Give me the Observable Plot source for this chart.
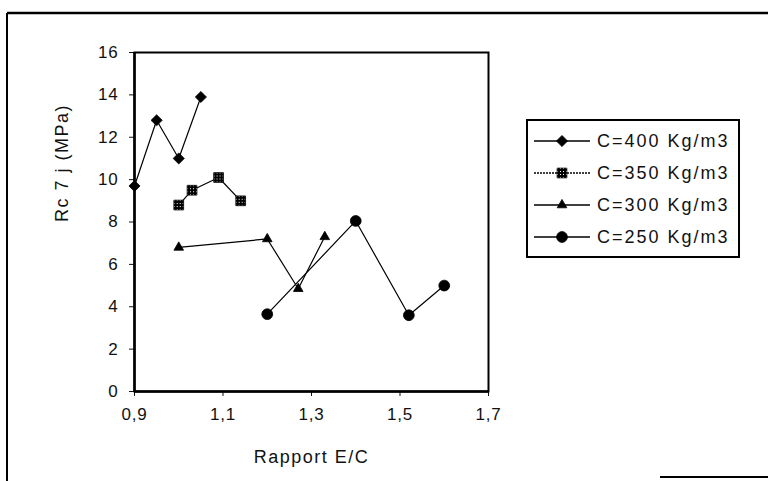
<!DOCTYPE html>
<html><head><meta charset="utf-8">
<script src="https://cdn.jsdelivr.net/npm/d3@7"></script>
<script src="https://cdn.jsdelivr.net/npm/@observablehq/plot@0.6"></script>
<style>
body{margin:0;background:#fff;}
#wrap{position:relative;width:768px;height:481px;overflow:hidden;font-family:"Liberation Sans",Arial,sans-serif;}
#wrap svg text{letter-spacing:0.8px;}
#wrap svg text.wide{letter-spacing:1.5px;}
#wrap svg g.legend text{letter-spacing:2px;}
</style></head><body><div id="wrap"></div>
<script>
const seriesNames = ["C=400 Kg/m3", "C=350 Kg/m3", "C=300 Kg/m3", "C=250 Kg/m3"];
const x400 = [0.9, 0.95, 1.0, 1.05];
const y400 = [9.7, 12.8, 11.0, 13.9];
const x350 = [1.0, 1.03, 1.09, 1.14];
const y350 = [8.8, 9.5, 10.1, 9.0];
const x300 = [1.0, 1.2, 1.27, 1.33];
const y300 = [6.8, 7.2, 4.85, 7.3];
const x250 = [1.2, 1.4, 1.52, 1.6];
const y250 = [3.65, 8.05, 3.6, 5.0];
const xTicks = [0.9, 1.1, 1.3, 1.5, 1.7];
const yTicks = [0, 2, 4, 6, 8, 10, 12, 14, 16];
const xTitle = "Rapport E/C";
const yTitle = "Rc 7 j (MPa)";

const xs = [x400, x350, x300, x250];
const ys = [y400, y350, y300, y250];
const symbols = ["diamond2", "square", "triangle2", "circle"];
const radii = [5, 5.5, 4.6, 5.4];
const fills = ["black", "url(#hatch)", "black", "black"];

const rows = seriesNames.map((s, i) => xs[i].map((x, j) => ({series: s, x, y: ys[i][j]})));
const all = rows.flat();

const chart = Plot.plot({
  width: 768, height: 481,
  marginLeft: 134, marginRight: 280, marginTop: 52, marginBottom: 90,
  style: {fontFamily: '"Liberation Sans", Arial, sans-serif', fontSize: "17px", color: "#111", background: "transparent"},
  x: {domain: [0.9, 1.7], ticks: xTicks, tickFormat: d => d.toFixed(1).replace(".", ","), tickSize: 5, tickPadding: 11, label: null},
  y: {domain: [0, 16], ticks: yTicks, tickSize: 5, tickPadding: 11, label: null},
  symbol: {domain: seriesNames, range: symbols},
  marks: [
    Plot.frame({stroke: "black", strokeWidth: 2}),
    Plot.ruleX([0.9], {stroke: "black", strokeWidth: 2.5}),
    Plot.ruleY([0], {stroke: "black", strokeWidth: 2.5}),
    Plot.line(all, {x: "x", y: "y", z: "series", stroke: "black", strokeWidth: 1.2}),
    ...rows.map((r, i) => Plot.dot(r, {x: "x", y: "y", symbol: "series", r: radii[i], fill: fills[i], stroke: "black", strokeWidth: 0.8})),
    Plot.text([xTitle], {frameAnchor: "bottom", dy: 66, lineAnchor: "middle", fontSize: 18, fill: "#111", className: "wide"}),
    Plot.text([yTitle], {frameAnchor: "left", dx: -72, rotate: -90, lineAnchor: "middle", fontSize: 18, fill: "#111", className: "wide"})
  ]
});

const svg = d3.select(chart);
svg.selectAll("g.wide text").classed("wide", true);
const defs = svg.insert("defs", ":first-child");
const pat = defs.append("pattern").attr("id", "hatch").attr("patternUnits", "userSpaceOnUse").attr("width", 3).attr("height", 3);
pat.append("rect").attr("width", 3).attr("height", 3).attr("fill", "black");
pat.append("rect").attr("x", 1).attr("y", 1).attr("width", 1).attr("height", 1).attr("fill", "white");

// outer frame of the scanned figure
const fr = svg.append("g").attr("stroke", "black").attr("fill", "none");
fr.append("line").attr("x1", 7).attr("x2", 768).attr("y1", 13).attr("y2", 13).attr("stroke-width", 2.5);
fr.append("line").attr("x1", 7).attr("x2", 7).attr("y1", 13).attr("y2", 481).attr("stroke-width", 2);
fr.append("line").attr("x1", 660).attr("x2", 768).attr("y1", 477).attr("y2", 477).attr("stroke-width", 2);

// legend
const lg = svg.append("g").attr("class", "legend").attr("text-anchor", "start");
lg.append("rect").attr("x", 527).attr("y", 120).attr("width", 212).attr("height", 137)
  .attr("fill", "white").attr("stroke", "black").attr("stroke-width", 2);
seriesNames.forEach((s, i) => {
  const yy = 141 + i * 32;
  lg.append("line").attr("x1", 534).attr("x2", 590).attr("y1", yy).attr("y2", yy)
    .attr("stroke", "black").attr("stroke-width", 1.3).attr("stroke-dasharray", i === 1 ? "2,1" : null);
  const symType = [d3.symbolDiamond2, d3.symbolSquare, d3.symbolTriangle2, d3.symbolCircle][i];
  lg.append("path").attr("d", d3.symbol(symType, radii[i] * radii[i] * Math.PI)())
    .attr("transform", `translate(562,${yy})`).attr("fill", fills[i]).attr("stroke", "black").attr("stroke-width", 0.8);
  lg.append("text").attr("x", 597).attr("y", yy).attr("dy", "0.35em").attr("font-size", 18)
    .attr("text-anchor", "start").attr("fill", "#111").text(s);
});

document.getElementById("wrap").appendChild(chart);
</script>
</body></html>
